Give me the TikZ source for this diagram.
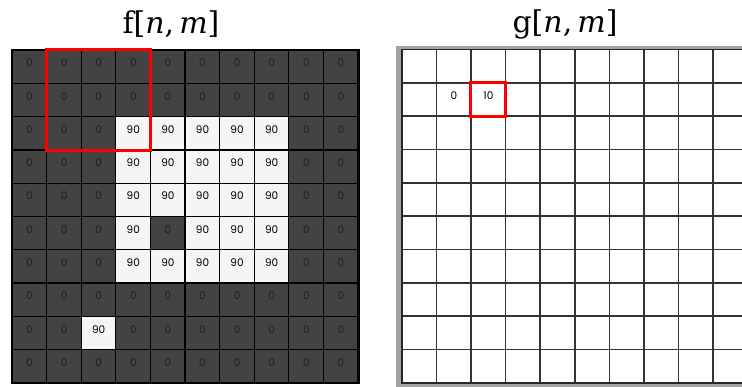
\documentclass[tikz,border=0pt]{standalone}
\usepackage{fontspec}
\newfontfamily\cellfont{Poppins}
\newfontfamily\titlefont{DejaVu Serif}
\definecolor{darkcell}{HTML}{434343}
\definecolor{lightcell}{HTML}{F5F5F5}
\definecolor{darkdigit}{HTML}{1E1E1E}
\definecolor{framegray}{HTML}{A3A3A3}
\definecolor{hired}{HTML}{FF0000}
\tikzset{
  cellbase/.style={minimum width=34.6pt, minimum height=33.3pt, inner sep=0pt, anchor=north west},
  dcell/.style={cellbase, fill=darkcell},
  lcell/.style={cellbase, fill=lightcell},
  gcell/.style={cellbase, fill=white},
  fline/.style={draw=black, line width=1.3pt},
  gline/.style={draw=black!80, line width=1.6pt},
  dtxt/.style={font=\cellfont\fontsize{10.5}{10.5}\selectfont, text=darkdigit},
  ltxt/.style={font=\cellfont\fontsize{10.5}{10.5}\selectfont, text=black},
  redbox/.style={draw=hired, line width=3pt},
  title/.style={font=\titlefont\fontsize{30}{30}\selectfont, inner sep=0pt}
}
\begin{document}
\begin{tikzpicture}[x=1pt,y=-1pt]
\useasboundingbox (0,0) rectangle (742,387);
% titles
\node[title] (ftitle) at (171,24) {f[\textit{n},\,\textit{m}]};
\node[title] (gtitle) at (565,24) {g[\textit{n},\,\textit{m}]};
% left grid f
\foreach \r/\row in {0/{0,0,0,0,0,0,0,0,0,0},1/{0,0,0,0,0,0,0,0,0,0},2/{0,0,0,90,90,90,90,90,0,0},3/{0,0,0,90,90,90,90,90,0,0},4/{0,0,0,90,90,90,90,90,0,0},5/{0,0,0,90,0,90,90,90,0,0},6/{0,0,0,90,90,90,90,90,0,0},7/{0,0,0,0,0,0,0,0,0,0},8/{0,0,90,0,0,0,0,0,0,0},9/{0,0,0,0,0,0,0,0,0,0}}{
  \foreach \v [count=\c from 0] in \row {
    \ifnum\v=0
      \node[dcell] (f-\r-\c) at ({12+34.6*\c},{50+33.3*\r}) {};
      \node[dtxt] (ft-\r-\c) at ([yshift=4pt]f-\r-\c.center) {\v};
    \else
      \node[lcell] (f-\r-\c) at ({12+34.6*\c},{50+33.3*\r}) {};
      \node[ltxt] (ft-\r-\c) at ([yshift=4pt]f-\r-\c.center) {\v};
    \fi
  }
}
\foreach \i in {1,...,9}{
  \draw[fline] (f-0-\i.north west) -- (f-9-\i.south west);
  \draw[fline] (f-\i-0.north west) -- (f-\i-9.north east);
}
\draw[black, line width=2.2pt] (f-0-0.north west) rectangle (f-9-9.south east);
\draw[redbox] (f-0-1.north west) rectangle (f-2-3.south east);
% right grid g
\fill[framegray] (395.5,46.5) rectangle (745,387);
\foreach \r in {0,...,9}{
  \foreach \c in {0,...,9}{
    \node[gcell] (g-\r-\c) at ({401.7+34.6*\c},{49.7+33.3*\r}) {};
  }
}
\foreach \i in {1,...,9}{
  \draw[gline] (g-0-\i.north west) -- (g-9-\i.south west);
  \draw[gline] (g-\i-0.north west) -- (g-\i-9.north east);
}
\draw[black!85, line width=1.6pt] (g-0-0.north west) rectangle (g-9-9.south east);
\node[ltxt] (gt-1-1) at ([yshift=4pt]g-1-1.center) {0};
\node[ltxt] (gt-1-2) at ([yshift=4pt]g-1-2.center) {10};
\draw[redbox] (g-1-2.north west) rectangle (g-1-2.south east);
\end{tikzpicture}
\end{document}
